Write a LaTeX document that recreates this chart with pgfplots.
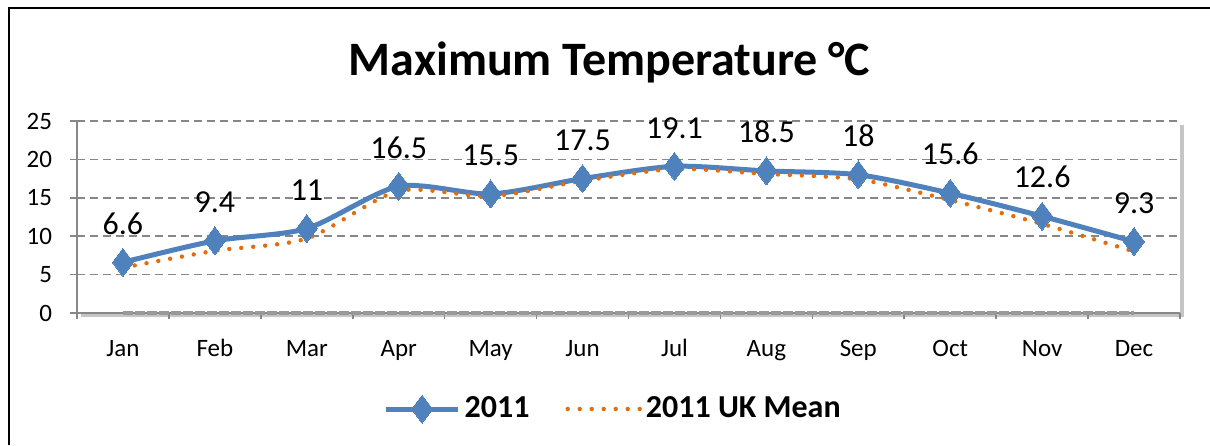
\documentclass[border=0pt]{standalone}
\usepackage{pgfplots}
\pgfplotsset{compat=1.18}
\usepackage{fontspec}
\setmainfont{Carlito}
\usetikzlibrary{shadows}
\definecolor{sblue}{HTML}{4F81BD}
\definecolor{sorange}{HTML}{E46C0A}
\definecolor{gridgray}{HTML}{878787}
\begin{document}
\begin{tikzpicture}
\useasboundingbox (0,0) rectangle (605pt,222.5pt);
\fill[white] (0,0) rectangle (605pt,222.5pt);
\draw[black, line width=1.4pt] (4.5pt,0) -- (4.5pt,218.5pt) -- (605pt,218.5pt);
\begin{axis}[
  at={(38.5pt,66pt)}, anchor=south west,
  scale only axis, width=551.5pt, height=96pt,
  xmin=-0.5, xmax=11.5, ymin=0, ymax=25,
  xtick={0,...,11},
  xticklabels={Jan,Feb,Mar,Apr,May,Jun,Jul,Aug,Sep,Oct,Nov,Dec},
  minor xtick={-0.5,0.5,...,11.5},
  ytick={0,5,...,25},
  major x tick style={draw=none},
  tick align=outside,
  tick style={gridgray, line width=0.8pt},
  minor tick length=3pt, major tick length=3.5pt,
  axis x line*=bottom, axis y line*=left,
  axis line style={gridgray, line width=0.8pt, -},
  ymajorgrids,
  major grid style={gridgray, line width=0.75pt, dash pattern=on 4pt off 2.5pt},
  /pgf/number format/assume math mode=true,
  tick label style={font=\fontsize{12.5}{14}\selectfont},
  xticklabel style={yshift=-8pt, text height=1.4ex, text depth=0.3ex},
  yticklabel style={xshift=-5.5pt},
  axis background/.style={fill=white, drop shadow={shadow xshift=2pt, shadow yshift=-2pt, opacity=0.45, fill=gray}},
  title={\bfseries Maximum Temperature °C},
  title style={at={(0.483,1)}, anchor=center, yshift=23.5pt, font=\fontsize{24}{28}\selectfont},
  legend style={at={(0.487,-0.5)}, anchor=center, draw=none, fill=none,
    font=\fontsize{16}{18}\selectfont\bfseries, legend columns=2,
    /tikz/every even column/.append style={column sep=16pt}},
  legend image code/.code={\draw[#1] (0pt,0pt) -- (36pt,0pt); \path[#1, solid] plot coordinates {(18pt,0pt)};},
  every node near coord/.style={font=\fontsize{16}{18}\selectfont, black, anchor=south, inner sep=0pt, yshift=14pt},
  clip=false,
]
\addplot[forget plot, gray!80, line width=1.6pt, dash pattern=on 5pt off 1pt] coordinates {(0,0) (11,0)};
\addplot[sblue, line width=2.5pt, smooth, tension=0.45, mark=diamond*, mark size=7pt,
  mark options={fill=sblue, draw=sblue, line width=0pt},
  nodes near coords, point meta=explicit symbolic] coordinates {
  (0,6.6)[6.6] (1,9.4)[9.4] (2,11)[11] (3,16.5)[16.5] (4,15.5)[15.5] (5,17.5)[17.5]
  (6,19.1)[19.1] (7,18.5)[18.5] (8,18)[18] (9,15.6)[15.6] (10,12.6)[12.6] (11,9.3)[9.3]};
\addlegendentry{2011}
\addplot[sorange, line width=2.2pt, smooth, tension=0.45, line cap=round, dash pattern=on 0pt off 6pt] coordinates {
  (0,5.9) (1,8.1) (2,9.7) (3,15.9) (4,15.2) (5,17.2)
  (6,18.75) (7,18.1) (8,17.4) (9,14.7) (10,11.6) (11,8.0)};
\addlegendentry{2011 UK Mean}
\end{axis}
\end{tikzpicture}
\end{document}
